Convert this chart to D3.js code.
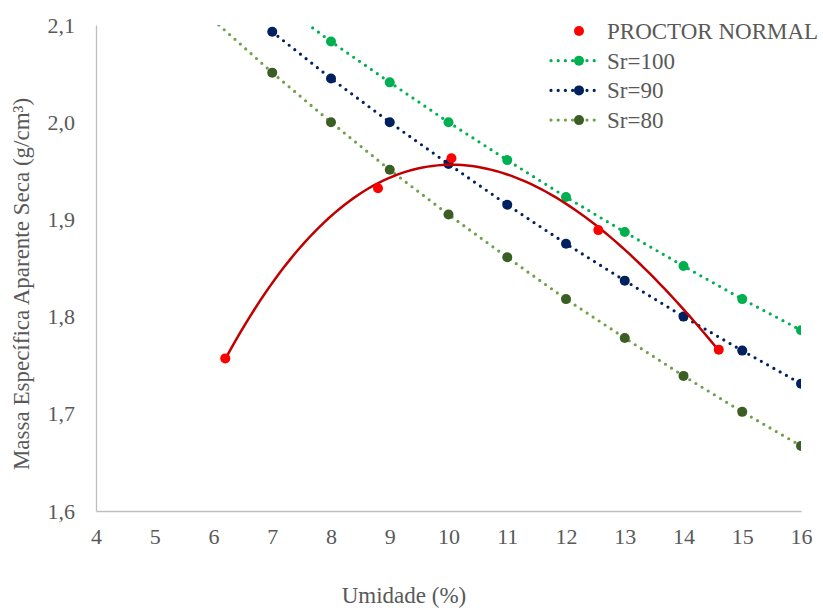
<!DOCTYPE html>
<html>
<head>
<meta charset="utf-8">
<script src="https://cdn.jsdelivr.net/npm/d3@7"></script>
<style>
  body { margin: 0; background: #fff; }
</style>
</head>
<body>
<div id="container"></div>
<script>
const width = 823;
const height = 608;

// Proctor normal test points
const proctorW = [6.2, 8.8, 10.05, 12.55, 14.6];
const proctorGd = [1.757, 1.932, 1.963, 1.889, 1.766];

// saturation curves
const sr100W = [7, 8, 9, 10, 11, 12, 13, 14, 15, 16];
const sr100Gd = [2.128, 2.083, 2.041, 2.000, 1.961, 1.923, 1.887, 1.852, 1.818, 1.786];
const sr90W = [7, 8, 9, 10, 11, 12, 13, 14, 15, 16];
const sr90Gd = [2.093, 2.045, 2.000, 1.957, 1.915, 1.875, 1.837, 1.800, 1.765, 1.731];
const sr80W = [6, 7, 8, 9, 10, 11, 12, 13, 14, 15, 16];
const sr80Gd = [2.105, 2.051, 2.000, 1.951, 1.905, 1.861, 1.818, 1.778, 1.739, 1.702, 1.667];

const xTicks = [4, 5, 6, 7, 8, 9, 10, 11, 12, 13, 14, 15, 16];
const yTicks = [1.6, 1.7, 1.8, 1.9, 2.0, 2.1];

const margin = { top: 25, right: 22, bottom: 97, left: 96 };
const font = '"Liberation Serif", "Times New Roman", serif';
const textColor = '#595959';

const svg = d3.select('#container').append('svg')
    .attr('width', width)
    .attr('height', height);

const x = d3.scaleLinear().domain([4, 16]).range([margin.left, width - margin.right]);
const y = d3.scaleLinear().domain([1.6, 2.1]).range([height - margin.bottom, margin.top]);

svg.append('defs').append('clipPath')
    .attr('id', 'plot')
    .append('rect')
    .attr('x', x(4))
    .attr('y', y(2.1))
    .attr('width', x(16) - x(4))
    .attr('height', y(1.6) - y(2.1));

// axes
svg.append('g')
    .attr('transform', `translate(0,${y(1.6)})`)
    .call(d3.axisBottom(x).tickValues(xTicks).tickSize(0).tickPadding(17).tickFormat(d3.format('d')))
    .call(g => g.select('.domain').attr('stroke', '#bfbfbf').attr('stroke-width', 1.3))
    .selectAll('text')
    .style('font-family', font)
    .style('font-size', '22px')
    .attr('fill', textColor);

svg.append('g')
    .attr('transform', `translate(${x(4)},0)`)
    .call(d3.axisLeft(y).tickValues(yTicks).tickSize(0).tickPadding(21)
        .tickFormat(d => d3.format('.1f')(d).replace('.', ',')))
    .call(g => g.select('.domain').attr('stroke', '#bfbfbf').attr('stroke-width', 1.3))
    .selectAll('text')
    .style('font-family', font)
    .style('font-size', '22px')
    .attr('fill', textColor);

// axis titles
svg.append('text')
    .attr('x', 404)
    .attr('y', 603)
    .attr('text-anchor', 'middle')
    .style('font-family', font)
    .style('font-size', '23px')
    .attr('fill', textColor)
    .text('Umidade (%)');

svg.append('text')
    .attr('transform', 'translate(29,284) rotate(-90)')
    .attr('text-anchor', 'middle')
    .style('font-family', font)
    .style('font-size', '23px')
    .attr('fill', textColor)
    .text('Massa Específica Aparente Seca (g/cm³)');

const series = [
    { w: sr100W, gd: sr100Gd, line: '#00b050', marker: '#00b050', name: 'Sr=100' },
    { w: sr90W, gd: sr90Gd, line: '#002060', marker: '#002060', name: 'Sr=90' },
    { w: sr80W, gd: sr80Gd, line: '#70a049', marker: '#3b5e25', name: 'Sr=80' }
];

const plot = svg.append('g').attr('clip-path', 'url(#plot)');

const line = d3.line().x(d => x(d[0])).y(d => y(d[1]));

series.forEach(s => {
    const pts = s.w.map((w, i) => [w, s.gd[i]]);
    plot.append('path')
        .datum(pts)
        .attr('d', line)
        .attr('fill', 'none')
        .attr('stroke', s.line)
        .attr('stroke-width', 3.2)
        .attr('stroke-linecap', 'round')
        .attr('stroke-dasharray', '0 7.2');
    plot.selectAll(null)
        .data(pts.filter(p => p[1] <= 2.1))
        .join('circle')
        .attr('cx', d => x(d[0]))
        .attr('cy', d => y(d[1]))
        .attr('r', 5)
        .attr('fill', s.marker);
});

// polynomial (order 3) trendline of the proctor points, least squares
const fitPoly = (xs, ys, order) => {
    const n = order + 1;
    const A = d3.range(n).map(i => d3.range(n + 1).map(j => 0));
    xs.forEach((xv, k) => {
        for (let i = 0; i < n; i++) {
            for (let j = 0; j < n; j++) A[i][j] += Math.pow(xv, i + j);
            A[i][n] += Math.pow(xv, i) * ys[k];
        }
    });
    for (let i = 0; i < n; i++) {
        let p = i;
        for (let r = i + 1; r < n; r++) if (Math.abs(A[r][i]) > Math.abs(A[p][i])) p = r;
        [A[i], A[p]] = [A[p], A[i]];
        for (let r = 0; r < n; r++) {
            if (r === i) continue;
            const f = A[r][i] / A[i][i];
            for (let c = i; c <= n; c++) A[r][c] -= f * A[i][c];
        }
    }
    return d3.range(n).map(i => A[i][n] / A[i][i]);
};

const coef = fitPoly(proctorW, proctorGd, 3);
const polyAt = w => coef.reduce((s, c, i) => s + c * Math.pow(w, i), 0);
const trend = d3.range(0, 101).map(i => {
    const w = d3.min(proctorW) + (d3.max(proctorW) - d3.min(proctorW)) * i / 100;
    return [w, polyAt(w)];
});

plot.append('path')
    .datum(trend)
    .attr('d', line)
    .attr('fill', 'none')
    .attr('stroke', '#c00000')
    .attr('stroke-width', 2.5);

plot.selectAll(null)
    .data(proctorW.map((w, i) => [w, proctorGd[i]]))
    .join('circle')
    .attr('cx', d => x(d[0]))
    .attr('cy', d => y(d[1]))
    .attr('r', 5)
    .attr('fill', '#ff0000');

// legend
const legend = svg.append('g').attr('transform', 'translate(551,31)');
const legendItems = [{ name: 'PROCTOR NORMAL', marker: '#ff0000', line: null }].concat(series);
legendItems.forEach((s, i) => {
    const g = legend.append('g').attr('transform', `translate(0,${i * 29.7})`);
    if (s.line) {
        g.append('line')
            .attr('x1', 0).attr('x2', 50)
            .attr('stroke', s.line)
            .attr('stroke-width', 3.2)
            .attr('stroke-linecap', 'round')
            .attr('stroke-dasharray', '0 7.2');
    }
    g.append('circle').attr('cx', 28).attr('r', 5).attr('fill', s.marker);
    g.append('text')
        .attr('x', 56)
        .attr('dy', '0.35em')
        .style('font-family', font)
        .style('font-size', '23px')
        .attr('fill', textColor)
        .text(s.name);
});
</script>
</body>
</html>
